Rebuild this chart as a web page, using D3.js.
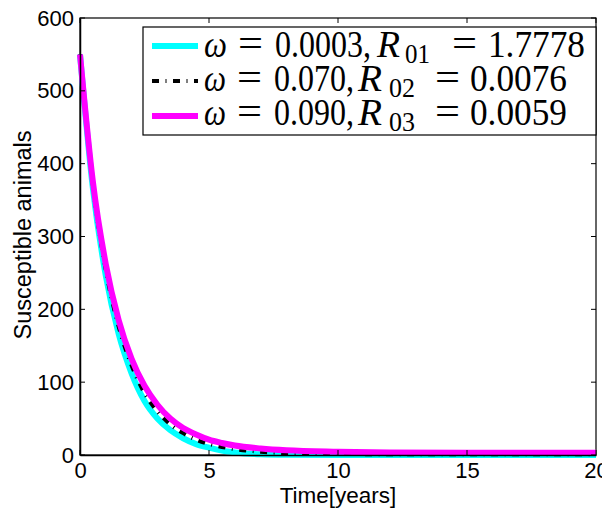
<!DOCTYPE html>
<html><head><meta charset="utf-8">
<script src="https://cdn.jsdelivr.net/npm/d3@7"></script>
<style>body{margin:0;background:#fff}svg{display:block}</style>
</head><body>
<svg id="c" width="602" height="514"></svg>
<script>
// Data
const time =        [0, 0.5, 1, 1.5, 2, 2.5, 3, 3.5, 4, 4.5, 5, 5.5, 6, 7, 8, 10, 12, 15, 20];
const sCyan =       [550, 366, 246, 166, 112, 74, 50, 34, 23, 15, 10, 6, 3.5, 1, 0.3, 0, 0, 0, 0];
const sBlack =      [550, 370, 254, 176, 123, 85, 60, 42, 30, 21, 15, 11, 8, 4.5, 2.5, 1.5, 1, 1, 1];
const sMagenta =    [550, 375, 262, 185, 132, 95, 69, 50, 37, 28, 21, 16.5, 13, 9, 6.5, 4.5, 3.5, 3, 3];
const xTicks = [0, 5, 10, 15, 20];
const yTicks = [0, 100, 200, 300, 400, 500, 600];
const omegaLabels = ["0.0003", "0.070", "0.090"];
const rSubs = ["01", "02", "03"];
const rValues = ["1.7778", "0.0076", "0.0059"];

const svg = d3.select("#c");
const L = 80, R = 596, T = 18, B = 455;
const x = d3.scaleLinear().domain([0, 20]).range([L, R]);
const y = d3.scaleLinear().domain([0, 600]).range([B, T]);

const series = [
  {vals: sCyan, color: "#00ffff", width: 6, dash: null},
  {vals: sBlack, color: "#000000", width: 4, dash: "7,6.5,1,6.5"},
  {vals: sMagenta, color: "#ff00ff", width: 6, dash: null}
];

// axes box
svg.append("rect").attr("x", L).attr("y", T).attr("width", R - L).attr("height", B - T)
  .attr("fill", "none").attr("stroke", "#000").attr("stroke-width", 1.2);

const line = d3.line().x((d, i) => x(time[i])).y(d => y(d)).curve(d3.curveMonotoneX);
series.forEach(s => {
  svg.append("path").datum(s.vals).attr("d", line).attr("fill", "none")
    .attr("stroke", s.color).attr("stroke-width", s.width)
    .attr("stroke-dasharray", s.dash);
});

// bottom / left axes
const fontSans = "'Liberation Sans', Arial, sans-serif";
const xb = svg.append("g").attr("transform", `translate(0,${B})`)
  .call(d3.axisBottom(x).tickValues(xTicks).tickSize(0).tickPadding(7).tickFormat(d3.format("d")));
xb.select(".domain").attr("stroke", "#000").attr("stroke-width", 1.5);
xb.selectAll("text").attr("font-family", fontSans).attr("font-size", 22).attr("fill", "#000");
const yl = svg.append("g").attr("transform", `translate(${L},0)`)
  .call(d3.axisLeft(y).tickValues(yTicks).tickSize(0).tickPadding(6).tickFormat(d3.format("d")));
yl.select(".domain").attr("stroke", "#000").attr("stroke-width", 1.5);
yl.selectAll("text").attr("font-family", fontSans).attr("font-size", 22).attr("fill", "#000");

// inward ticks on all sides
const tk = 5;
xTicks.forEach(v => {
  svg.append("line").attr("x1", x(v)).attr("x2", x(v)).attr("y1", B).attr("y2", B - tk).attr("stroke", "#000");
  svg.append("line").attr("x1", x(v)).attr("x2", x(v)).attr("y1", T).attr("y2", T + tk).attr("stroke", "#000");
});
yTicks.forEach(v => {
  svg.append("line").attr("x1", L).attr("x2", L + tk).attr("y1", y(v)).attr("y2", y(v)).attr("stroke", "#000");
  svg.append("line").attr("x1", R).attr("x2", R - tk).attr("y1", y(v)).attr("y2", y(v)).attr("stroke", "#000");
});

// axis labels
svg.append("text").attr("x", 338).attr("y", 503).attr("text-anchor", "middle")
  .attr("font-family", fontSans).attr("font-size", 22.5).text("Time[years]");
svg.append("text").attr("transform", `translate(31,235) rotate(-90)`).attr("text-anchor", "middle")
  .attr("font-family", fontSans).attr("font-size", 23.5).text("Susceptible animals");

// legend
const lg = svg.append("g");
lg.append("rect").attr("x", 143).attr("y", 27).attr("width", 453).attr("height", 108)
  .attr("fill", "#fff").attr("stroke", "#000").attr("stroke-width", 1.2);
const fontSerif = "'Liberation Serif', 'DejaVu Serif', serif";
const rowsY = [46, 81, 116];
const baseY = [57, 91, 125];
// [x, width] slots for each piece of the legend entries
const pos = [
  {w: [204, 23], eq1: [238, 25], num: [275, 96], R: [377, 23], sub: [405, 25], eq2: [452, 25], val: [488, 97]},
  {w: [204, 22], eq1: [237, 25], num: [274, 80], R: [358, 24], sub: [389, 26], eq2: [435, 25], val: [470, 97]},
  {w: [204, 22], eq1: [237, 25], num: [274, 80], R: [358, 24], sub: [389, 26], eq2: [435, 25], val: [470, 97]}
];
series.forEach((s, i) => {
  lg.append("line").attr("x1", 152).attr("x2", 198).attr("y1", rowsY[i]).attr("y2", rowsY[i])
    .attr("stroke", s.color).attr("stroke-width", s.width).attr("stroke-dasharray", s.dash);
  const p = pos[i];
  const g = lg.append("g").attr("transform", `translate(0,${baseY[i]}) scale(1,1.1)`)
    .attr("font-family", fontSerif).attr("font-size", 34).attr("fill", "#000");
  const piece = (slot, txt, dy, extra) => {
    const t = g.append("text").attr("x", slot[0]).attr("y", dy)
      .attr("textLength", slot[1]).attr("lengthAdjust", "spacingAndGlyphs").text(txt);
    if (extra) extra(t);
    return t;
  };
  piece(p.w, "ω", 0, t => t.attr("font-style", "italic"));
  piece(p.eq1, "=", -1);
  piece(p.num, omegaLabels[i] + ",", 0);
  piece(p.R, "R", 0, t => t.attr("font-style", "italic"));
  piece(p.sub, rSubs[i], 5, t => t.attr("font-size", 24));
  piece(p.eq2, "=", -1);
  piece(p.val, rValues[i], 0);
});
</script>
</body></html>
